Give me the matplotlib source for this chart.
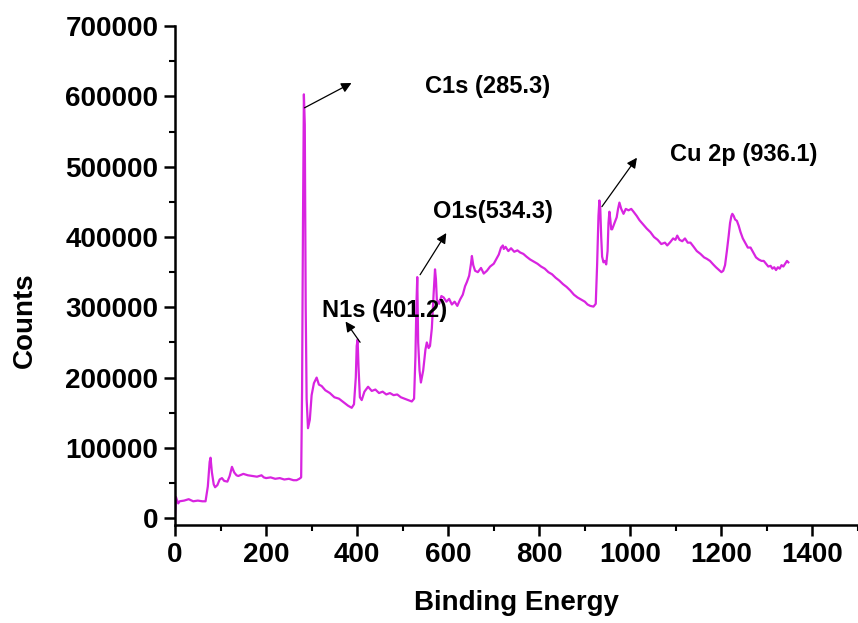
import matplotlib
matplotlib.use("Agg")
import matplotlib.pyplot as plt
import numpy as np

# XPS survey spectrum (four stretches, joined below)
e_low = [0, 2, 4, 7, 10, 20, 30, 40, 50, 60,
         67, 72, 76, 78, 81, 85, 88, 93, 98, 103,
         108, 115, 120, 125, 130, 135, 139, 150, 160, 170,
         180, 190, 195, 200, 210, 220, 230, 240, 250, 260,
         267, 273, 277]
c_low = [4000, 30000, 26000, 21000, 24000, 25000, 27000, 24000, 25000, 24000,
         24000, 45000, 80000, 86000, 65000, 48000, 44000, 47000, 55000, 57000,
         53000, 52000, 60000, 73000, 65000, 61000, 60000, 63000, 61000, 60000,
         59000, 61000, 58000, 57000, 58000, 56000, 57000, 55000, 56000, 54000,
         54000, 56000, 58000]

e_c1s = [279, 281, 283, 285, 287, 289, 292, 296, 300, 305,
         311, 316, 322, 330, 340, 350, 360, 370, 380, 388,
         393, 397, 399, 401, 403, 406, 410, 416, 424, 432,
         440, 448, 456, 464, 472, 480, 488, 496, 504, 512,
         520]
c_c1s = [180000, 420000, 603000, 560000, 300000, 170000, 128000, 140000, 175000, 192000,
         200000, 190000, 188000, 182000, 178000, 172000, 170000, 165000, 160000, 157000,
         162000, 200000, 245000, 254000, 215000, 172000, 168000, 180000, 187000, 181000,
         183000, 178000, 180000, 176000, 178000, 175000, 176000, 172000, 170000, 168000,
         166000]

e_o1s = [525, 528, 530, 532, 534, 537, 540, 545, 550, 553,
         557, 560, 564, 568, 571, 573, 575, 580, 585, 590,
         596, 602, 608, 614, 620, 626, 632, 637, 641, 646,
         650, 652, 655, 659, 665, 672, 678, 685, 692, 700,
         706, 711, 716, 720, 722, 726, 732, 738, 745, 752,
         758, 765, 772, 780, 788, 796, 804, 812, 820, 828,
         836, 844, 852, 860, 868, 876, 884, 892, 900, 906,
         912, 919]
c_o1s = [170000, 230000, 300000, 343000, 250000, 210000, 193000, 210000, 240000, 250000,
         242000, 245000, 270000, 320000, 354000, 340000, 311000, 305000, 316000, 314000,
         308000, 312000, 304000, 308000, 302000, 311000, 318000, 330000, 336000, 345000,
         362000, 373000, 360000, 352000, 350000, 356000, 348000, 352000, 358000, 362000,
         369000, 375000, 385000, 388000, 383000, 386000, 380000, 384000, 379000, 381000,
         378000, 376000, 372000, 368000, 365000, 362000, 358000, 355000, 350000, 347000,
         342000, 338000, 333000, 329000, 324000, 318000, 314000, 311000, 308000, 304000,
         302000, 301000]

e_cu = [924, 927, 930, 932, 934, 936, 938, 941, 944, 947,
        950, 952, 954, 956, 958, 960, 964, 967, 970, 973,
        976, 980, 985, 990, 996, 1002, 1007, 1014, 1020, 1028,
        1036, 1044, 1052, 1060, 1068, 1076, 1081, 1088, 1094, 1099,
        1103, 1108, 1114, 1120, 1126, 1132, 1138, 1146, 1154, 1162,
        1168, 1175, 1182, 1188, 1195, 1200, 1204, 1208, 1212, 1216,
        1219, 1222, 1224, 1227, 1230, 1234, 1238, 1242, 1247, 1252,
        1258, 1264, 1270, 1276, 1282, 1288, 1293, 1298, 1303, 1308,
        1312, 1316, 1320, 1324, 1328, 1332, 1336, 1340, 1344, 1347]
c_cu = [305000, 360000, 430000, 452000, 440000, 400000, 372000, 364000, 366000, 361000,
        380000, 420000, 436000, 425000, 411000, 411000, 418000, 423000, 428000, 440000,
        449000, 440000, 433000, 440000, 438000, 440000, 436000, 430000, 424000, 418000,
        412000, 407000, 400000, 396000, 390000, 392000, 388000, 393000, 398000, 396000,
        402000, 396000, 394000, 398000, 392000, 392000, 387000, 380000, 376000, 371000,
        369000, 366000, 361000, 357000, 353000, 350000, 352000, 360000, 380000, 402000,
        420000, 430000, 433000, 430000, 425000, 423000, 416000, 407000, 398000, 392000,
        385000, 385000, 378000, 371000, 368000, 366000, 366000, 362000, 358000, 359000,
        355000, 357000, 353000, 357000, 355000, 360000, 358000, 362000, 366000, 364000]

peak_labels = ["C1s (285.3)", "N1s (401.2)", "O1s(534.3)", "Cu 2p (936.1)"]
arrow_tails = [(279, 582000), (410, 247000), (535, 343000), (934, 440000)]
arrow_heads = [(393, 621000), (371, 283000), (599, 409000), (1018, 516000)]
label_pos = [(549, 614000), (323, 296000), (567, 436000), (1086, 517000)]

energy = e_low + e_c1s + e_o1s + e_cu
counts = c_low + c_c1s + c_o1s + c_cu

plt.rcParams["font.family"] = ["Liberation Sans", "DejaVu Sans"]
plt.rcParams["font.weight"] = "bold"

fig = plt.figure(figsize=(8.58, 6.23), dpi=100)
ax = fig.add_axes([0.204, 0.157, 0.796, 0.801])
ax.plot(energy, counts, color="#D824E0", lw=1.6)

for lab, t, h, p in zip(peak_labels, arrow_tails, arrow_heads, label_pos):
    ax.annotate("", xy=h, xytext=t,
                arrowprops=dict(arrowstyle="-|>", color="black", lw=0.9, mutation_scale=15))
    ax.text(p[0], p[1], lab, fontsize=17, fontweight="bold", va="center", ha="left")

ax.set_xlim(0, 1500)
ax.set_ylim(-10000, 700000)
ax.set_xticks(np.arange(0, 1401, 200))
ax.set_xticks(np.arange(100, 1501, 200), minor=True)
ax.set_yticks(np.arange(0, 700001, 100000))
ax.set_yticks(np.arange(50000, 700000, 100000), minor=True)
ax.spines["top"].set_visible(False)
ax.spines["right"].set_visible(False)
for s in ("left", "bottom"):
    ax.spines[s].set_linewidth(1.8)
ax.tick_params(which="major", direction="out", length=8, width=1.8, labelsize=20, pad=4)
ax.tick_params(which="minor", direction="out", length=4, width=1.5)
for t in ax.get_xticklabels() + ax.get_yticklabels():
    t.set_fontweight("bold")
ax.set_xlabel("Binding Energy", fontsize=20, fontweight="bold", labelpad=16)
ax.set_ylabel("Counts", fontsize=20, fontweight="bold")
ax.yaxis.set_label_coords(-0.201, 0.41)

fig.savefig("out.png", dpi=100)
